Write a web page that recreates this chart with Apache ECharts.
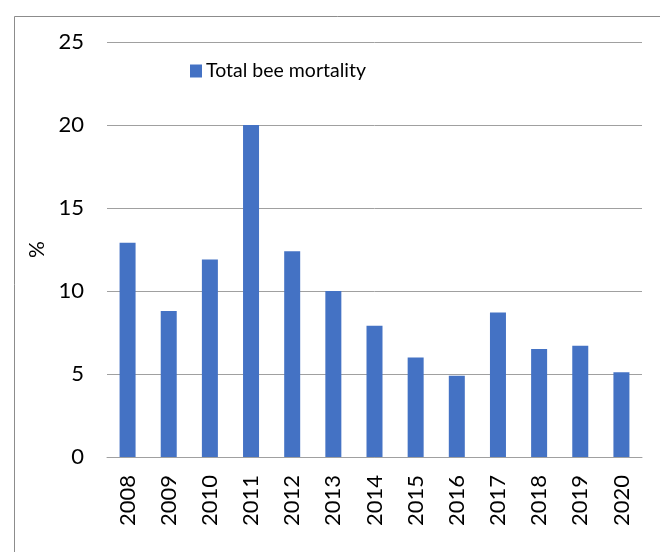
<!DOCTYPE html>
<html>
<head>
<meta charset="utf-8">
<script src="https://cdn.jsdelivr.net/npm/echarts@6/dist/echarts.min.js"></script>
<style>html,body{margin:0;padding:0;background:#fff;}#c{width:660px;height:552px;}</style>
</head>
<body>
<div id="c"></div>
<script>
const years = ['2008','2009','2010','2011','2012','2013','2014','2015','2016','2017','2018','2019','2020'];
const mortality = [12.9, 8.8, 11.9, 20.0, 12.4, 10.0, 7.9, 6.0, 4.9, 8.7, 6.5, 6.7, 5.1];
const seriesName = 'Total bee mortality';
const yTicks = {min: 0, max: 25, interval: 5};

const chart = echarts.init(document.getElementById('c'), null, {renderer: 'canvas'});
const font = 'Lato, "Open Sans", sans-serif';
chart.setOption({
  animation: false,
  backgroundColor: '#fff',
  graphic: [{
    type: 'rect', left: 12, top: 14,
    shape: {width: 700, height: 600},
    style: {fill: null, stroke: '#8c8c8c', lineWidth: 1},
    silent: true, z: -1
  }],
  legend: {
    data: [seriesName],
    left: 190, top: 61, padding: 0,
    itemWidth: 12, itemHeight: 13, itemGap: 4,
    icon: 'rect',
    textStyle: {fontSize: 19.5, color: '#000', fontFamily: font, padding: [0, 0, 0, -1]}
  },
  grid: {left: 107, right: 18, top: 42, bottom: 95, containLabel: false},
  xAxis: {
    type: 'category',
    data: years,
    axisLine: {lineStyle: {color: '#a0a0a0', width: 1}},
    axisTick: {show: false},
    axisLabel: {rotate: 90, fontSize: 22, color: '#000', fontFamily: font, margin: 18}
  },
  yAxis: {
    type: 'value',
    min: yTicks.min, max: yTicks.max, interval: yTicks.interval,
    name: '%', nameLocation: 'middle', nameGap: 56, nameRotate: 90,
    nameTextStyle: {fontSize: 21, color: '#000', fontFamily: font},
    axisLine: {show: false},
    axisTick: {show: false},
    splitLine: {lineStyle: {color: '#a0a0a0', width: 1}},
    axisLabel: {fontSize: 22, color: '#000', fontFamily: font, margin: 23}
  },
  series: [{
    name: seriesName,
    type: 'bar',
    data: mortality,
    barWidth: 16,
    itemStyle: {color: '#4472C4'}
  }]
});
</script>
</body>
</html>
